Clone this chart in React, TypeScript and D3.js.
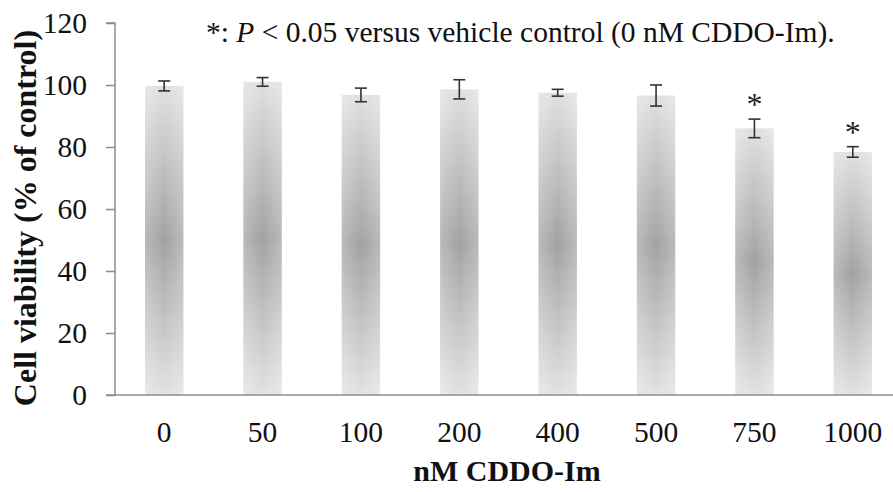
import React, { useEffect, useRef } from 'react';
import * as d3 from 'd3';

// concentrations (nM CDDO-Im)
const doses = ['0', '50', '100', '200', '400', '500', '750', '1000'];
// mean cell viability, % of control
const viability = [99.7, 101.0, 96.8, 98.6, 97.5, 96.6, 86.0, 78.4];
// error bar half-height
const errors = [1.6, 1.4, 2.2, 3.1, 1.1, 3.4, 3.0, 1.7];
// significant vs vehicle control
const significant = [false, false, false, false, false, false, true, true];
const yTicks = [0, 20, 40, 60, 80, 100, 120];

const W = 893;
const H = 492;
const FONT = '"Liberation Serif", "Times New Roman", serif';

export default function App() {
  const ref = useRef<SVGSVGElement>(null);

  useEffect(() => {
    const svg = d3.select(ref.current);
    svg.selectAll('*').remove();

    const left = 115;
    const bottom = 395;
    const top = 23;

    const x = d3.scaleBand().domain(doses).range([left, left + 787]).paddingInner(0.61).paddingOuter(0.305);
    const y = d3.scaleLinear().domain([0, 120]).range([bottom, top]);

    const defs = svg.append('defs');
    const grad = defs.append('linearGradient')
      .attr('id', 'barGrad')
      .attr('x1', 0).attr('y1', 0).attr('x2', 0).attr('y2', 1);
    grad.append('stop').attr('offset', '0%').attr('stop-color', '#e0e0e0');
    grad.append('stop').attr('offset', '50%').attr('stop-color', '#a2a2a2');
    grad.append('stop').attr('offset', '100%').attr('stop-color', '#e2e2e2');

    const side = defs.append('linearGradient')
      .attr('id', 'sideGrad')
      .attr('x1', 0).attr('y1', 0).attr('x2', 1).attr('y2', 0);
    side.append('stop').attr('offset', '0%').attr('stop-color', '#fff').attr('stop-opacity', 0.25);
    side.append('stop').attr('offset', '50%').attr('stop-color', '#fff').attr('stop-opacity', 0);
    side.append('stop').attr('offset', '100%').attr('stop-color', '#fff').attr('stop-opacity', 0.25);

    // bars
    const bars = svg.append('g');
    bars.selectAll('rect.bar')
      .data(viability)
      .join('rect')
        .attr('class', 'bar')
        .attr('x', (d, i) => x(doses[i]))
        .attr('y', d => y(d))
        .attr('width', x.bandwidth())
        .attr('height', d => y(0) - y(d))
        .attr('fill', 'url(#barGrad)');
    bars.selectAll('rect.side')
      .data(viability)
      .join('rect')
        .attr('class', 'side')
        .attr('x', (d, i) => x(doses[i]))
        .attr('y', d => y(d))
        .attr('width', x.bandwidth())
        .attr('height', d => y(0) - y(d))
        .attr('fill', 'url(#sideGrad)');

    // y axis
    const yAxis = d3.axisLeft(y).tickValues(yTicks).tickSize(9).tickPadding(19);
    const gy = svg.append('g').attr('transform', `translate(${left},0)`).call(yAxis);
    gy.attr('font-family', null);
    gy.select('.domain').attr('stroke', '#8c8c8c').attr('stroke-width', 1.5).attr('d', `M-9,${top}H0V${bottom}`);
    gy.selectAll('.tick line').attr('stroke', '#8c8c8c').attr('stroke-width', 1.5);
    gy.selectAll('.tick text')
      .style('font-family', FONT).style('font-size', '29.5px').attr('fill', '#111');

    // x axis
    svg.append('line')
      .attr('x1', left - 9).attr('x2', W)
      .attr('y1', bottom).attr('y2', bottom)
      .attr('stroke', '#8c8c8c').attr('stroke-width', 1.5);
    svg.append('g').selectAll('text')
      .data(doses)
      .join('text')
        .attr('x', d => x(d) + x.bandwidth() / 2)
        .attr('y', 442)
        .attr('text-anchor', 'middle')
        .style('font-family', FONT).style('font-size', '29.5px').attr('fill', '#111')
        .text(d => d);

    // error bars
    const eb = svg.append('g').attr('stroke', '#333').attr('stroke-width', 1.6).attr('fill', 'none');
    viability.forEach((v, i) => {
      const cx = x(doses[i]) + x.bandwidth() / 2;
      const hi = y(v + errors[i]);
      const lo = y(v - errors[i]);
      eb.append('line').attr('x1', cx).attr('x2', cx).attr('y1', hi).attr('y2', lo);
      eb.append('line').attr('x1', cx - 6).attr('x2', cx + 6).attr('y1', hi).attr('y2', hi);
      eb.append('line').attr('x1', cx - 6).attr('x2', cx + 6).attr('y1', lo).attr('y2', lo);
    });

    // significance stars
    svg.append('g').selectAll('text')
      .data(viability.map((v, i) => ({ v, i })).filter(d => significant[d.i]))
      .join('text')
        .attr('x', d => x(doses[d.i]) + x.bandwidth() / 2)
        .attr('y', d => y(d.v + errors[d.i]) - 4)
        .attr('text-anchor', 'middle')
        .style('font-family', FONT).style('font-size', '32px').attr('fill', '#222')
        .text('*');

    // note
    const note = svg.append('text')
      .attr('x', 206).attr('y', 42)
      .style('font-family', FONT).style('font-size', '29.5px').attr('fill', '#111');
    note.append('tspan').text('*: ');
    note.append('tspan').attr('font-style', 'italic').text('P');
    note.append('tspan').text(' < 0.05 versus vehicle control (0 nM CDDO-Im).');

    // axis titles
    svg.append('text')
      .attr('x', 507).attr('y', 481)
      .attr('text-anchor', 'middle')
      .style('font-family', FONT).style('font-size', '30px').attr('font-weight', 'bold').attr('fill', '#111')
      .text('nM CDDO-Im');
    svg.append('text')
      .attr('transform', 'translate(36,218) rotate(-90)')
      .attr('text-anchor', 'middle')
      .style('font-family', FONT).style('font-size', '32px').attr('font-weight', 'bold').attr('fill', '#111')
      .text('Cell viability (% of control)');
  }, []);

  return (
    <svg
      ref={ref}
      width={W}
      height={H}
      style={{ position: 'absolute', left: 0, top: 0, background: '#fff' }}
    />
  );
}
